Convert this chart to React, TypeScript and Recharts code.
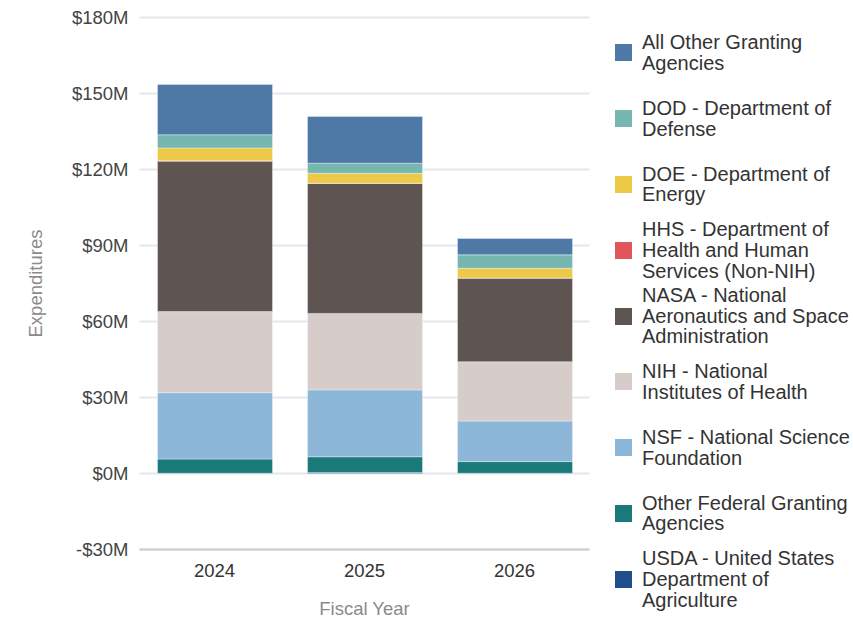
import { BarChart, Bar, XAxis, YAxis, CartesianGrid } from "recharts";

const years = ["2024", "2025", "2026"];

// values in $M
const usda = [0.1, 0.4, 0.1];
const otherFederal = [5.6, 6.2, 4.6];
const nsf = [26.2, 26.4, 16.0];
const nih = [32.0, 30.2, 23.4];
const nasa = [59.4, 51.3, 33.0];
const hhs = [0.2, 0.1, 0.1];
const doe = [5.0, 3.9, 3.8];
const dod = [5.2, 4.0, 5.3];
const allOther = [19.9, 18.4, 6.5];

const yTicks = [-30, 0, 30, 60, 90, 120, 150, 180];

// legend order (top of stack first)
const series = [
  { key: "allOther", values: allOther, color: "#4e79a7", label: "All Other Granting Agencies" },
  { key: "dod", values: dod, color: "#76b7b2", label: "DOD - Department of Defense" },
  { key: "doe", values: doe, color: "#edc948", label: "DOE - Department of Energy" },
  { key: "hhs", values: hhs, color: "#e15759", label: "HHS - Department of Health and Human Services (Non-NIH)" },
  { key: "nasa", values: nasa, color: "#5e5452", label: "NASA - National Aeronautics and Space Administration" },
  { key: "nih", values: nih, color: "#d6cdca", label: "NIH - National Institutes of Health" },
  { key: "nsf", values: nsf, color: "#8cb7d8", label: "NSF - National Science Foundation" },
  { key: "otherFederal", values: otherFederal, color: "#1a7a7a", label: "Other Federal Granting Agencies" },
  { key: "usda", values: usda, color: "#1f4e8a", label: "USDA - United States Department of Agriculture" },
];

const data = years.map((year, i) => {
  const row: Record<string, string | number> = { year };
  series.forEach((s) => {
    row[s.key] = s.values[i];
  });
  return row;
});

const font = "'Liberation Sans', Arial, sans-serif";

const money = (v: number) => (v < 0 ? `-$${Math.abs(v)}M` : `$${v}M`);

export default function App() {
  const stackOrder = [...series].reverse();
  return (
    <div style={{ position: "absolute", left: 0, top: 0, width: 853, height: 620, background: "#fff", fontFamily: font }}>
      <BarChart
        width={853}
        height={620}
        data={data}
        margin={{ top: 17.5, right: 263.5, left: 0, bottom: 0 }}
      >
        <CartesianGrid vertical={false} stroke="#e4e8ed" strokeWidth={2} />
        <XAxis
          dataKey="year"
          height={70.5}
          tickLine={false}
          tickSize={0}
          tickMargin={14}
          axisLine={{ stroke: "#c9cdd2", strokeWidth: 2 }}
          tick={{ fill: "#333", fontSize: 18.5, fontFamily: font }}
          label={{ value: "Fiscal Year", position: "insideBottom", offset: 5, fill: "#8a8a8a", fontSize: 18.5, fontFamily: font }}
        />
        <YAxis
          width={139.5}
          domain={[-30, 180]}
          ticks={yTicks}
          tickFormatter={money}
          tickLine={false}
          tickSize={0}
          tickMargin={11}
          axisLine={false}
          tick={{ fill: "#444", fontSize: 18.5, fontFamily: font }}
          label={{
            value: "Expenditures",
            angle: -90,
            position: "insideLeft",
            offset: 35,
            fill: "#8a8a8a",
            fontSize: 18.5,
            fontFamily: font,
            style: { textAnchor: "middle" },
          }}
        />
        {stackOrder.map((s) => (
          <Bar
            key={s.key}
            dataKey={s.key}
            stackId="a"
            fill={s.color}
            stroke="#ffffff"
            strokeOpacity={0.35}
            strokeWidth={1}
            barSize={115}
            isAnimationActive={false}
          />
        ))}
      </BarChart>
      <div style={{ position: "absolute", left: 615, top: 20, width: 238 }}>
        {series.map((s) => (
          <div key={s.key} style={{ height: 65.8, display: "flex", alignItems: "center" }}>
            <div style={{ width: 17, height: 17, background: s.color, flex: "0 0 17px" }} />
            <div
              style={{
                marginLeft: 10,
                width: 210,
                fontSize: 20,
                lineHeight: "20.7px",
                color: "#333",
              }}
            >
              {s.label}
            </div>
          </div>
        ))}
      </div>
    </div>
  );
}
